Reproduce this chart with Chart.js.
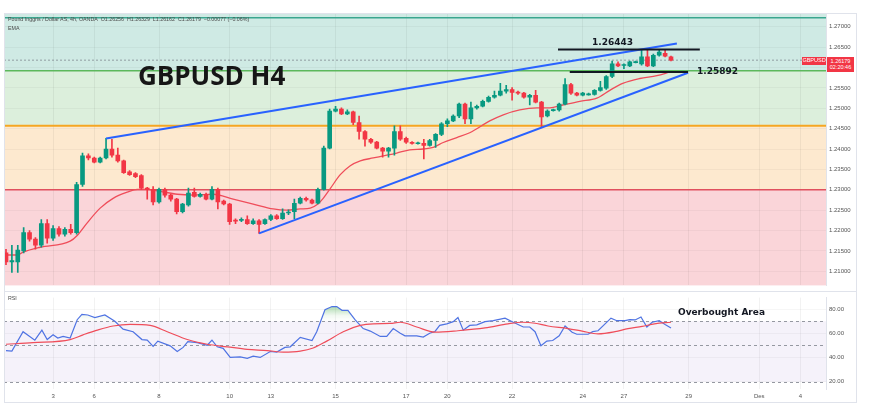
<!DOCTYPE html>
<html>
<head>
<meta charset="utf-8">
<script src="https://cdn.jsdelivr.net/npm/chart.js@4.4.1/dist/chart.umd.min.js"></script>
<style>
  body { margin: 0; background: #fff; }
  #wrap { position: relative; width: 870px; height: 419px; overflow: hidden; font-family: "Liberation Sans", Arial, sans-serif; }
  canvas { position: absolute; left: 0; }
  .txt { position: absolute; white-space: nowrap; color: #131722; }
  .small { font-size: 5.3px; line-height: 6px; color: #4a4a4a; }
  .note { font: bold 9px "DejaVu Sans"; line-height: 9px; }
  .tag { position: absolute; background: #f23645; color: #fff; font-size: 5.5px; line-height: 6.5px; text-align: center; }
</style>
</head>
<body>
<div id="wrap">
  <canvas id="priceChart" width="870" height="292" style="top:0"></canvas>
  <canvas id="rsiChart" width="870" height="114" style="top:291px"></canvas>
  <div style="position:absolute;left:4px;top:13px;width:851px;height:388px;border:1px solid #e0e3eb;pointer-events:none"></div>
  <div style="position:absolute;left:4px;top:291px;width:852px;height:1px;background:#e0e3eb"></div>
  <div class="txt small" style="left:8px;top:16px">Pound Inggris / Dollar AS, 4h, OANDA&nbsp; O1.26256&nbsp; H1.26329&nbsp; L1.26162&nbsp; C1.26179&nbsp; −0.00077 (−0.06%)</div>
  <div class="txt small" style="left:8px;top:25px">EMA</div>
  <div class="txt small" style="left:8px;top:295px">RSI</div>
  <div class="txt" style="left:138px;top:62px;font:bold 26px 'Open Sans';line-height:26px;color:#161616">GBPUSD H4</div>
  <div class="txt note" style="left:592px;top:38px">1.26443</div>
  <div class="txt note" style="left:697px;top:67px">1.25892</div>
  <div class="txt note" style="left:678px;top:308px">Overbought Area</div>
  <div class="tag" style="left:802px;top:57px;width:24px;height:8px">GBPUSD</div>
  <div class="tag" style="left:827px;top:57px;width:27px;height:14px;padding-top:0.5px">1.26179<br>02:20:46</div>
</div>
<script>
// candles, 4h, index 0 = first bar on the left
let opens = [
  1.2145,1.2123,1.2123,1.2150,1.2195,1.2179,1.2164,1.2217,1.2181,1.2205,
  1.2191,1.2203,1.2195,1.2313,1.2383,1.2378,1.2368,1.2378,1.2400,1.2385,
  1.2371,1.2344,1.2340,1.2335,1.2304,1.2301,1.2270,1.2301,1.2287,1.2277,
  1.2246,1.2263,1.2294,1.2284,1.2289,1.2277,1.2301,1.2272,1.2265,1.2224,
  1.2225,1.2227,1.2217,1.2224,1.2217,1.2227,1.2236,1.2229,1.2243,1.2246,
  1.2267,1.2279,1.2275,1.2267,1.2301,1.2402,1.2493,1.2498,1.2486,1.2491,
  1.2465,1.2443,1.2424,1.2417,1.2402,1.2395,1.2402,1.2443,1.2426,1.2415,
  1.2413,1.2414,1.2409,1.2421,1.2436,1.2462,1.2469,1.2481,1.2510,1.2474,
  1.2501,1.2505,1.2517,1.2527,1.2532,1.2542,1.2546,1.2539,1.2537,1.2527,
  1.2532,1.2515,1.2481,1.2494,1.2496,1.2510,1.2558,1.2537,1.2532,1.2533,
  1.2534,1.2544,1.2549,1.2578,1.2609,1.2605,1.2604,1.2612,1.2609,1.2626,
  1.2604,1.2630,1.2635,1.2626
];
let highs = [
  1.2154,1.2164,1.2164,1.2207,1.2200,1.2183,1.2227,1.2227,1.2212,1.2210,
  1.2207,1.2215,1.2318,1.2390,1.2388,1.2380,1.2380,1.2426,1.2424,1.2402,
  1.2373,1.2347,1.2342,1.2337,1.2306,1.2308,1.2304,1.2304,1.2289,1.2279,
  1.2267,1.2304,1.2304,1.2292,1.2292,1.2308,1.2304,1.2275,1.2267,1.2229,
  1.2231,1.2236,1.2229,1.2227,1.2229,1.2239,1.2239,1.2253,1.2251,1.2277,
  1.2282,1.2282,1.2277,1.2304,1.2407,1.2498,1.2505,1.2501,1.2496,1.2493,
  1.2481,1.2445,1.2426,1.2419,1.2404,1.2404,1.2457,1.2457,1.2429,1.2418,
  1.2417,1.2424,1.2424,1.2438,1.2465,1.2474,1.2484,1.2513,1.2513,1.2515,
  1.2508,1.2520,1.2530,1.2542,1.2561,1.2556,1.2551,1.2542,1.2539,1.2534,
  1.2544,1.2517,1.2496,1.2498,1.2513,1.2573,1.2561,1.2539,1.2539,1.2537,
  1.2546,1.2566,1.2580,1.2616,1.2614,1.2609,1.2616,1.2616,1.2644,1.2642,
  1.2633,1.2642,1.2642,1.2628
];
let lows = [
  1.2116,1.2097,1.2097,1.2145,1.2174,1.2154,1.2159,1.2169,1.2176,1.2186,
  1.2186,1.2191,1.2191,1.2308,1.2373,1.2366,1.2366,1.2376,1.2380,1.2368,
  1.2340,1.2335,1.2330,1.2301,1.2277,1.2263,1.2267,1.2282,1.2272,1.2241,
  1.2243,1.2260,1.2282,1.2282,1.2275,1.2275,1.2253,1.2263,1.2215,1.2217,
  1.2222,1.2215,1.2215,1.2193,1.2215,1.2224,1.2227,1.2227,1.2239,1.2229,
  1.2265,1.2272,1.2265,1.2265,1.2299,1.2400,1.2491,1.2484,1.2484,1.2460,
  1.2424,1.2407,1.2414,1.2400,1.2380,1.2380,1.2385,1.2421,1.2414,1.2412,
  1.2412,1.2376,1.2407,1.2404,1.2433,1.2455,1.2467,1.2477,1.2462,1.2462,
  1.2498,1.2503,1.2515,1.2525,1.2530,1.2537,1.2520,1.2534,1.2525,1.2508,
  1.2513,1.2455,1.2479,1.2493,1.2493,1.2508,1.2534,1.2530,1.2530,1.2532,
  1.2532,1.2542,1.2546,1.2575,1.2602,1.2597,1.2602,1.2611,1.2606,1.2602,
  1.2602,1.2628,1.2626,1.2616
];
let closes = [
  1.2123,1.2126,1.2152,1.2195,1.2179,1.2164,1.2217,1.2181,1.2205,1.2191,
  1.2203,1.2195,1.2313,1.2383,1.2378,1.2368,1.2378,1.2400,1.2385,1.2371,
  1.2342,1.2337,1.2332,1.2304,1.2301,1.2270,1.2301,1.2287,1.2277,1.2246,
  1.2265,1.2292,1.2284,1.2289,1.2277,1.2301,1.2270,1.2265,1.2222,1.2223,
  1.2227,1.2217,1.2224,1.2215,1.2227,1.2236,1.2229,1.2243,1.2245,1.2267,
  1.2279,1.2275,1.2267,1.2301,1.2402,1.2493,1.2498,1.2486,1.2491,1.2465,
  1.2443,1.2424,1.2417,1.2402,1.2395,1.2402,1.2443,1.2424,1.2417,1.2414,
  1.2414,1.2409,1.2421,1.2436,1.2462,1.2469,1.2481,1.2510,1.2474,1.2501,
  1.2505,1.2517,1.2527,1.2532,1.2542,1.2546,1.2539,1.2537,1.2527,1.2532,
  1.2515,1.2479,1.2493,1.2496,1.2510,1.2558,1.2537,1.2532,1.2537,1.2535,
  1.2544,1.2551,1.2578,1.2609,1.2604,1.2606,1.2614,1.2614,1.2626,1.2604,
  1.2630,1.2638,1.2628,1.2618
];

// EMA read at bar positions
let emaIdx = [0,1.9,2.9,5.8,10.9,12.1,13.8,16,18.2,20.6,22.3,24,26.2,29.1,31.8,35.2,38.6,42,45.4,47.7,
  50,51.7,53,53.9,55.1,56.8,58.5,60.2,62.4,64.1,66.4,68.6,70.9,72.6,74.3,76.6,78.8,82.2,84.5,87.3,
  90.2,92.4,94.6,97.5,100.4,102.6,104.8,107.7,110.6,112.8];
let emaVals = [1.2140,1.2140,1.2147,1.2159,1.2174,1.2188,1.2219,1.2255,1.2279,1.2294,1.2301,1.2301,1.2296,1.2289,1.2287,1.2289,1.2277,1.2265,1.2253,1.2250,
  1.2253,1.2255,1.2265,1.2279,1.2303,1.2337,1.2359,1.2371,1.2378,1.2383,1.2390,1.2398,1.2400,1.2404,1.2416,1.2428,1.2440,1.2469,1.2484,1.2496,
  1.2501,1.2501,1.2508,1.2517,1.2525,1.2544,1.2561,1.2573,1.2580,1.2589];

// RSI pane
let rsiIdx = [0,1,2.9,4.9,6.1,7,8,8.8,9.7,10.9,12.1,12.9,13.9,15.1,16.8,18.5,19.9,21.6,23.1,24,
  25,25.8,27.9,29.1,30.1,30.9,32.5,34.2,35,35.9,36.9,38.1,39.8,41,42,43.2,44.9,46,47.4,48.3,
  50,52,52.8,54.2,55.4,56.2,57.1,58.1,59.3,60.7,61.9,63.6,64.7,65.8,67,67.8,69.8,70.9,72,72.9,
  73.7,74.9,76,76.8,77.7,78.8,80,81.4,82.8,84.8,86.2,87.9,89,89.9,90.9,91.9,92.9,94,95,96.2,
  97,98.9,99.7,100.6,101.8,102.8,103.8,105.2,106,106.9,107.9,108.9,109.8,111,112,113];
let rsiVals = [45.8,45.3,61.4,54.4,62.7,54.9,58.8,56.2,57.5,56.2,71.3,75.7,75.2,73.1,75.2,70,63.5,61.4,54.9,54.4,
  49.2,53.6,49.7,45,48.4,53.1,52.3,50.2,54.4,48.9,47.6,40.1,40.6,39.3,41.1,40.1,45,44.5,48.4,48.9,
  56.7,54.1,61.4,79.6,82.2,82.2,79.1,79.1,71.3,64,61.9,57.5,57.5,64,60.1,58,58,57,60.1,61.6,
  66.6,67.9,69.7,73.1,62.7,66.6,67.1,69.7,70.5,72.6,69.2,65.3,65.3,61.4,49.7,53.6,54.1,58,66.1,60.9,
  59.3,59.3,61.4,62.2,67.9,72.6,70.5,70.5,71.3,71.1,73.6,65.3,69.2,70.5,67.4,64.5];
let rsiMaIdx = [0,4.6,10.9,13.1,15.5,18.2,21.1,24.5,27.4,30.8,34.2,37.6,41,44.4,47.1,50,52.2,54.5,57.3,60.2,
  62.4,65.3,67,69.8,72.9,76.8,81.4,85.3,87.7,89.9,92.1,95.5,97.9,100.6,103.5,105.7,108.1,110.2,113];
let rsiMaVals = [51,52.3,54.9,58.8,62.7,66.1,67.4,66.6,61.4,54.9,51,48.9,46.8,45.8,44.5,45.3,47.9,53.6,61.4,66.6,
  67.9,68.2,69.2,65.3,61,62.2,64.5,67.9,69.2,68.4,66.1,64,61.9,59.6,61.4,64,65.8,67.9,69.2];

// drawings
let levelPrices = [1.2722, 1.2592, 1.2457, 1.2300];
let levelColors = ['#3aa68f', '#5cb85c', '#f5a623', '#e0505e'];
let bandColors = ['#cfeae4', '#dcefdc', '#fde9cf', '#fad5d9'];
let upperTrendIdx = [17, 114], upperTrendVals = [1.2426, 1.2659];
let lowerTrendIdx = [43, 115.9], lowerTrendVals = [1.2193, 1.2587];
let highLineIdx = [93.8, 117.9], highLineVal = 1.26443;
let lowLineIdx = [95.8, 115.9], lowLineVal = 1.25892;

// time axis
let dayTickIdx = [8, 15, 26, 38, 45, 56, 68, 75, 86, 98, 105, 116, 128, 135];
let dayLabels = ['3', '6', '8', '10', '13', '15', '17', '20', '22', '24', '27', '29', 'Des', '4'];
let priceTicks = [1.21, 1.215, 1.22, 1.225, 1.23, 1.235, 1.24, 1.245, 1.25, 1.255, 1.26, 1.265, 1.27];
let rsiTicks = [20, 40, 60, 80];

let xMin = -0.34, xMax = 139.34;
let upColor = '#089981', downColor = '#f23645';
let candleColors = closes.map((c, i) => c >= opens[i] ? upColor : downColor);
let pts = (xs, ys) => xs.map((x, i) => ({x: x, y: ys[i]}));
let hLine = (v) => [{x: xMin, y: v}, {x: xMax, y: v}];

let bandsPlugin = {
  id: 'bands',
  beforeDraw(chart) {
    let a = chart.chartArea, y = chart.scales.y, c = chart.ctx;
    let edges = [y.max, levelPrices[1], levelPrices[2], levelPrices[3], y.min];
    c.save();
    for (let i = 0; i < bandColors.length; i++) {
      let t = y.getPixelForValue(edges[i]), b = y.getPixelForValue(edges[i + 1]);
      c.fillStyle = bandColors[i];
      c.fillRect(a.left, t, a.right - a.left, b - t);
    }
    c.restore();
  }
};

let lineDs = (data, color, width, order, extra) => Object.assign({
  type: 'line', data: data, borderColor: color, borderWidth: width,
  pointRadius: 0, fill: false, order: order
}, extra || {});

let xScale = (showTicks) => ({
  type: 'linear', min: xMin, max: xMax, offset: false,
  afterBuildTicks: s => { s.ticks = dayTickIdx.map(v => ({value: v})); },
  ticks: {
    display: showTicks, autoSkip: false, maxRotation: 0, padding: 4,
    color: '#555', font: {size: 6, family: 'Liberation Sans'},
    callback: v => dayLabels[dayTickIdx.indexOf(v)]
  },
  grid: {color: 'rgba(0,0,0,0.05)', drawTicks: false, offset: false},
  border: {display: false},
  afterFit: s => { s.height = showTicks ? 16 : 0; }
});

let ctx = document.getElementById('priceChart').getContext('2d');
let priceChart = new Chart(ctx, {
  type: 'bar',
  data: {
    datasets: [
      lineDs(hLine(levelPrices[0]), levelColors[0], 1.5, 20),
      lineDs(hLine(levelPrices[1]), levelColors[1], 1.5, 20),
      lineDs(hLine(levelPrices[2]), levelColors[2], 2, 20),
      lineDs(hLine(levelPrices[3]), levelColors[3], 1.5, 20),
      lineDs(hLine(closes[closes.length - 1]), 'rgba(120,123,134,0.7)', 1, 19, {borderDash: [2, 2]}),
      lineDs(pts(emaIdx, emaVals), '#ef4d5a', 1.3, 5, {cubicInterpolationMode: 'monotone'}),
      {
        type: 'bar', order: 4, grouped: false, barThickness: 1,
        data: lows.map((l, i) => ({x: i, y: [l, highs[i]]})),
        backgroundColor: candleColors
      },
      {
        type: 'bar', order: 3, grouped: false, barThickness: 4, minBarLength: 1,
        data: opens.map((o, i) => ({x: i, y: [o, closes[i]]})),
        backgroundColor: candleColors
      },
      lineDs(pts(upperTrendIdx, upperTrendVals), '#2962ff', 2, 2),
      lineDs(pts(lowerTrendIdx, lowerTrendVals), '#2962ff', 2, 2),
      lineDs(pts(highLineIdx, [highLineVal, highLineVal]), '#131722', 2, 1),
      lineDs(pts(lowLineIdx, [lowLineVal, lowLineVal]), '#131722', 2, 1)
    ]
  },
  options: {
    responsive: false, animation: false, events: [],
    layout: {padding: {left: 4, right: 14, top: 13, bottom: 1}},
    plugins: {legend: {display: false}, tooltip: {enabled: false}},
    scales: {
      x: xScale(false),
      y: {
        position: 'right', min: 1.20654, max: 1.27337,
        afterBuildTicks: s => { s.ticks = priceTicks.map(v => ({value: v})); },
        ticks: {color: '#555', padding: 3, font: {size: 6, family: 'Liberation Sans'}, callback: v => v.toFixed(5)},
        grid: {color: 'rgba(0,0,0,0.035)', drawTicks: false},
        border: {color: '#e0e3eb'},
        afterFit: s => { s.width = 30; }
      }
    }
  },
  plugins: [bandsPlugin]
});

let rsiBandPlugin = {
  id: 'rsiBand',
  beforeDraw(chart) {
    let a = chart.chartArea, y = chart.scales.y, c = chart.ctx;
    let t = y.getPixelForValue(70), b = y.getPixelForValue(20);
    c.save();
    c.fillStyle = 'rgba(126,87,194,0.08)';
    c.fillRect(a.left, t, a.right - a.left, b - t);
    c.restore();
  },
  beforeDatasetsDraw(chart) {
    let a = chart.chartArea, y = chart.scales.y, c = chart.ctx;
    c.save();
    c.strokeStyle = '#9598a1';
    c.lineWidth = 1;
    c.setLineDash([3, 3]);
    [70, 50, 20].forEach(v => {
      let p = Math.round(y.getPixelForValue(v)) + 0.5;
      c.beginPath(); c.moveTo(a.left, p); c.lineTo(a.right, p); c.stroke();
    });
    c.restore();
  }
};

// overbought fill fades in from the 70 line upwards (scale pixels are fixed: 14..89.6 over 292..389)
let obFill = (context) => {
  let chart = context.chart, y = chart.scales.y;
  if (!y) return 'rgba(76,175,80,0.2)';
  let g = chart.ctx.createLinearGradient(0, y.getPixelForValue(70), 0, y.getPixelForValue(84));
  g.addColorStop(0, 'rgba(76,175,80,0)');
  g.addColorStop(0.35, 'rgba(76,175,80,0.08)');
  g.addColorStop(1, 'rgba(76,175,80,0.55)');
  return g;
};

let rctx = document.getElementById('rsiChart').getContext('2d');
let rsiChart = new Chart(rctx, {
  type: 'line',
  data: {
    datasets: [
      lineDs(pts(rsiIdx, rsiVals), '#4f73e3', 1.2, 2, {
        fill: {target: {value: 70}, above: 'rgba(76,175,80,0.3)', below: 'transparent'}
      }),
      lineDs(pts(rsiMaIdx, rsiMaVals), '#ef4d5a', 1.2, 1, {cubicInterpolationMode: 'monotone'})
    ]
  },
  options: {
    responsive: false, animation: false, events: [],
    layout: {padding: {left: 4, right: 14, top: 1, bottom: 0}},
    plugins: {legend: {display: false}, tooltip: {enabled: false}},
    scales: {
      x: xScale(true),
      y: {
        position: 'right', min: 14, max: 89.6,
        afterBuildTicks: s => { s.ticks = rsiTicks.map(v => ({value: v})); },
        ticks: {color: '#555', padding: 3, font: {size: 6, family: 'Liberation Sans'}, callback: v => v.toFixed(2)},
        grid: {color: 'rgba(0,0,0,0.035)', drawTicks: false},
        border: {color: '#e0e3eb'},
        afterFit: s => { s.width = 30; }
      }
    }
  },
  plugins: [rsiBandPlugin]
});

rsiChart.data.datasets[0].fill = {target: {value: 70}, above: obFill({chart: rsiChart}), below: 'transparent'};
rsiChart.update('none');
</script>
</body>
</html>
